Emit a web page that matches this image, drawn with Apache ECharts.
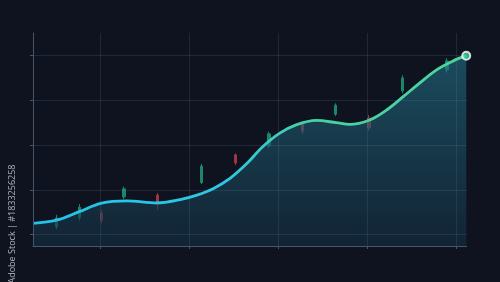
<!DOCTYPE html>
<html>
<head>
<meta charset="utf-8">
<script src="https://cdn.jsdelivr.net/npm/echarts@6/dist/echarts.min.js"></script>
<style>
html,body{margin:0;padding:0;background:#0f1320;}
#c{width:500px;height:282px;}
</style>
</head>
<body>
<div id="c"></div>
<script>
// Tick positions (axis units)
const xTicks = [6, 14, 22, 30, 38];
const yTicks = [10, 20, 30, 40, 50];

// Smooth trend line
const lineX = [0, 2.1, 4.15, 6.15, 8.4, 11.1, 13.2, 14.7, 16.2, 17.7, 19.2, 20.6, 22.1, 23.6, 25.4, 27.2, 28.4, 30.2, 31.7, 33.2, 34.7, 36.2, 37.7, 38.86];
const lineY = [12.5, 13.2, 15.1, 17.0, 17.5, 17.05, 17.8, 18.8, 20.3, 22.6, 25.9, 29.6, 32.6, 34.5, 35.5, 35.0, 34.6, 35.6, 37.8, 40.8, 43.9, 46.8, 48.8, 49.96];

// Candlesticks
const candleX     = [2.12, 4.15, 6.16, 8.15, 11.15, 15.12, 18.16, 21.15, 24.17, 27.15, 30.14, 33.13, 37.13];
const candleOpen  = [11.7, 13.7, 14.8, 18.4, 18.8, 21.6, 27.8, 29.8, 34.9, 36.9, 36.0, 42.1, 46.8];
const candleClose = [13.7, 16.1, 13.2, 20.2, 16.6, 25.3, 26.0, 32.5, 33.1, 38.9, 33.8, 45.0, 48.8];
const candleLow   = [11.2, 13.1, 12.5, 17.9, 15.5, 21.3, 25.5, 29.3, 32.5, 36.5, 33.2, 41.6, 46.2];
const candleHigh  = [14.4, 16.8, 15.5, 20.7, 19.3, 25.8, 28.1, 33.0, 35.2, 39.3, 36.7, 45.6, 49.4];

const lineData = lineX.map((x, i) => [x, lineY[i]]);
const candleData = candleX.map((x, i) => [x, candleOpen[i], candleClose[i], candleLow[i], candleHigh[i]]);
const lastPoint = [lineX[lineX.length - 1], lineY[lineY.length - 1]];

const chart = echarts.init(document.getElementById('c'), null, {renderer: 'canvas'});
const axisColor = '#465569';
const gridColor = 'rgba(110,145,185,0.17)';

chart.setOption({
  backgroundColor: '#0f1320',
  animation: false,
  grid: {left: 33, right: 33.3, top: 33, bottom: 36},
  xAxis: {
    type: 'value', min: 0, max: 38.9, z: 4,
    axisLine: {show: true, lineStyle: {color: axisColor, width: 1}},
    axisTick: {show: true, length: 3, customValues: xTicks, lineStyle: {color: axisColor}},
    axisLabel: {show: false, customValues: xTicks},
    splitLine: {show: true, showMinLine: true, showMaxLine: true, lineStyle: {color: gridColor, width: 1}}
  },
  yAxis: {
    type: 'value', min: 7.43, max: 55.03, z: 4,
    axisLine: {show: true, lineStyle: {color: axisColor, width: 1}},
    axisTick: {show: true, length: 3, customValues: yTicks, lineStyle: {color: axisColor}},
    axisLabel: {show: false, customValues: yTicks},
    splitLine: {show: true, showMinLine: true, showMaxLine: true, lineStyle: {color: gridColor, width: 1}}
  },
  graphic: [{
    type: 'text',
    x: 12, y: 224,
    rotation: Math.PI / 2,
    style: {
      text: 'Adobe Stock | #1833256258',
      fill: 'rgba(200,204,212,0.85)',
      font: '9px "Open Sans"',
      align: 'center',
      verticalAlign: 'middle'
    }
  }],
  series: [
    {
      type: 'candlestick',
      z: 1,
      data: candleData,
      encode: {x: 0, y: [1, 2, 3, 4]},
      barWidth: 3,
      itemStyle: {
        color: '#1a8868', color0: '#9c3843',
        borderColor: '#1a8868', borderColor0: '#9c3843', borderWidth: 1
      }
    },
    {
      type: 'line',
      z: 3,
      data: lineData,
      smooth: 0.35,
      showSymbol: false,
      lineStyle: {
        width: 2.8,
        color: new echarts.graphic.LinearGradient(0, 0, 1, 0, [
          {offset: 0, color: '#22c3ea'},
          {offset: 0.45, color: '#2dc8e2'},
          {offset: 0.62, color: '#46d0a6'},
          {offset: 1, color: '#4ed39a'}
        ])
      },
      areaStyle: {
        color: new echarts.graphic.LinearGradient(0, 0, 0, 1, [
          {offset: 0, color: 'rgba(34,114,136,0.85)'},
          {offset: 1, color: 'rgba(20,47,65,0.85)'}
        ])
      }
    },
    {
      type: 'scatter',
      z: 5,
      data: [lastPoint],
      symbol: 'circle',
      symbolSize: 8,
      itemStyle: {color: '#3ed39a', borderColor: '#ffffff', borderWidth: 2}
    }
  ]
});
</script>
</body>
</html>
